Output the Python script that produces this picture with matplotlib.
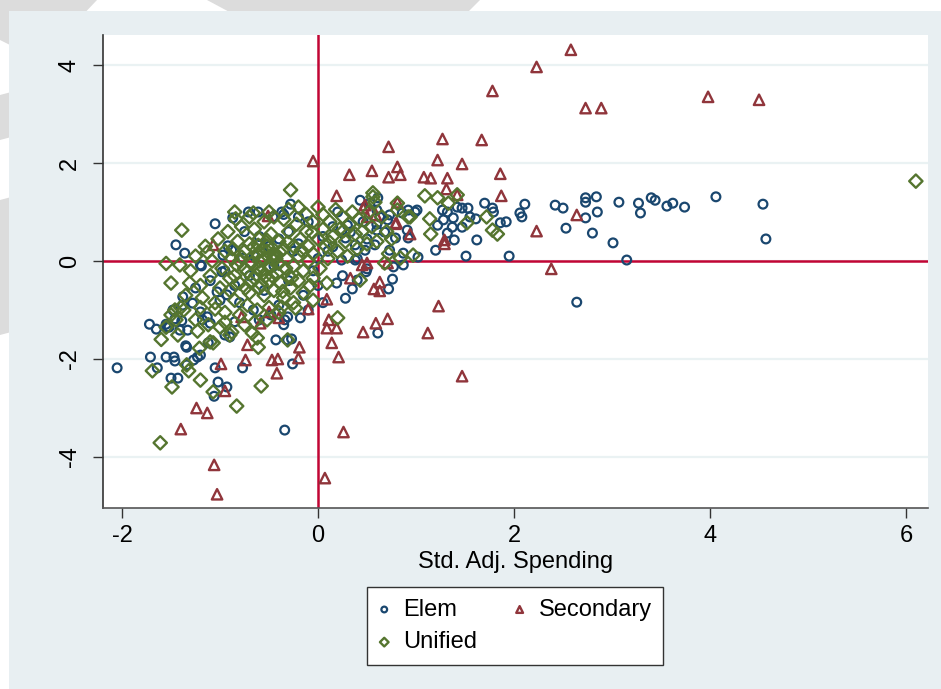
import matplotlib
matplotlib.use('Agg')
import matplotlib.pyplot as plt
from matplotlib.patches import Rectangle, Polygon

plt.rcParams['font.family'] = ['Liberation Sans', 'DejaVu Sans']

# Elementary districts (navy hollow circles)
elem_x = [2.11, 2.06, 2.08, 1.92, 1.86, 2.42, 2.50, 2.53, 2.73, 2.73, 2.84, 2.85, 2.73, 2.80,
          3.01, 3.07, 3.27, 3.29, 3.40, 3.44, 3.56, 3.62, 3.74, 4.06, 4.54, 4.57, 3.15, 1.95,
          2.64, 1.70, 1.78, 1.79, 1.62, 1.51, 1.39, 1.20, 1.47, 1.53, 1.55, 1.61, 1.47, 1.38,
          1.37, 1.32, 1.27, 1.28, 1.22, 1.32, 1.42, 1.01, 0.99, 0.92, 0.86, 0.73, 0.71, 0.63,
          0.60, 0.43, 0.53, 0.61, 0.46, 0.60, 0.68, 0.79, 0.91, 0.92, 1.02, 0.87, 0.73, 0.58,
          0.48, 0.38, 0.38, 0.24, 0.15, 0.28, 0.33, 0.30,
          -1.05, -1.45, -1.36, -1.19, -0.87, -0.71, -0.61, -0.37, -0.28, -0.46, -0.92, -0.88,
          -0.97, -0.77, -1.20, -0.98, -1.03, -1.38,
          -2.05, -1.72, -1.65, -1.55, -1.52, -1.46, -1.39, -1.41, -1.33, -1.35, -1.71, -1.64,
          -1.55, -1.47, -1.46, -1.50, -1.43, -1.34, -1.23, -1.27, -1.20, -1.12, -1.05, -1.02,
          -0.93, -1.06, -0.77, -0.85, -0.95, -0.90, -0.43, -0.31, -0.27, -0.26, -0.18, -0.34,
          -0.31, -0.48, -0.66, -1.38, -1.28, -1.20, -1.18, -1.13, -1.10, -1.48, -1.00, -0.93,
          -1.54, -1.34, -0.34, 0.61, 0.28, 0.19, 0.35, 0.49, 0.76, 0.72, 0.77, 0.87, 0.50, 0.40,
          -0.60, -0.50, -0.30, -0.20, -0.10, 0.05, 0.10, -0.05, -0.30, -0.55, -0.70, -0.85,
          -0.40, -0.15, 0.00, -0.65, -0.45, -0.25, 0.15, 0.20, -0.75, -0.95, -1.10, -1.25,
          -0.80, -0.60, -0.35, -0.10, 0.05, 0.25, 0.40, 0.50, 0.60, -0.35, -0.20, 0.00, -0.40]
elem_y = [1.16, 0.98, 0.90, 0.80, 0.78, 1.14, 1.08, 0.67, 1.29, 1.20, 1.31, 1.00, 0.88, 0.57,
          0.37, 1.20, 1.18, 0.98, 1.29, 1.24, 1.12, 1.18, 1.10, 1.31, 1.16, 0.45, 0.02, 0.10,
          -0.84, 1.18, 1.08, 1.00, 0.43, 0.10, 0.43, 0.22, 1.08, 1.08, 0.90, 0.86, 0.69, 0.88,
          0.69, 1.00, 1.04, 0.84, 0.73, 0.57, 1.10, 1.04, 1.00, 1.04, 0.98, 0.94, 0.84, 0.90,
          1.04, 1.24, 1.18, 1.29, 0.80, 0.63, 0.59, 0.47, 0.63, 0.47, 0.08, 0.16, 0.22, 0.33,
          0.22, 0.33, 0.02, 0.02, 0.29, 0.47, 0.59, 0.73,
          0.76, 0.33, 0.16, -0.10, 0.88, 1.00, 1.00, 1.00, 1.16, 0.90, 0.31, 0.22,
          0.12, 0.06, -0.08, -0.22, -0.63, -0.73,
          -2.18, -1.29, -1.39, -1.29, -1.35, -1.18, -1.22, -1.41, -1.41, -1.73, -1.96, -2.18,
          -1.96, -1.96, -2.04, -2.39, -2.39, -2.12, -1.96, -2.02, -1.92, -1.67, -2.18, -2.47,
          -2.57, -2.76, -2.18, -1.24, -1.51, -1.55, -1.61, -1.61, -1.59, -2.10, -1.16, -1.20,
          -1.14, -1.10, -1.00, -0.90, -0.86, -1.04, -1.20, -1.14, -1.27, -1.00, -0.80, -0.69,
          -1.35, -1.76, -3.45, -1.47, -0.76, -0.45, -0.57, -0.22, -0.37, -0.57, -0.12, -0.08,
          -0.16, -0.39,
          0.50, 0.30, 0.60, 0.90, 0.80, 0.50, 0.20, -0.20, -0.40, -0.60, -0.30, -0.50,
          -0.90, -0.70, -0.50, 0.10, -0.10, 0.20, 0.70, 1.00, 0.60, -0.20, -0.40, -0.55,
          -0.85, -1.20, -1.30, -1.00, -0.85, -0.30, 0.05, 0.45, 0.75, 0.95, 0.35, 0.05, 0.45]

# Secondary districts (maroon hollow triangles)
sec_x = [2.58, 2.23, 1.78, 2.73, 2.89, 3.98, 4.50, -0.05, 0.32, 0.55, 0.72, 1.27, 1.67, 0.81,
         0.72, 0.84, 1.08, 1.15, 1.22, 1.32, 1.47, 1.86, 1.31, 1.87, 0.19, 0.48, 0.59, 0.94,
         1.29, 0.80, 2.23, 2.64, 2.38, 1.29, 0.79, 0.46, 0.81, 0.50, 1.42, 0.33, 0.63, 0.57,
         0.63, 0.09, -0.10, 1.23, 0.11, 0.09, 0.19, 0.46, 0.59, 0.71, 1.12, 0.14, 0.21, 1.47,
         0.26, 0.07, -1.06, -1.03, -1.40, -1.24, -1.13, -0.99, -0.95, -0.74, -0.72, -0.42,
         -0.47, -0.41, -0.19, -0.20, -0.40, -0.59, -0.50, -0.78, 0.71, 0.50, -1.07, -0.51, 0.45]
sec_y = [4.31, 3.96, 3.47, 3.12, 3.12, 3.35, 3.29, 2.04, 1.76, 1.84, 2.33, 2.49, 2.47, 1.92,
         1.71, 1.76, 1.71, 1.69, 2.06, 1.69, 1.98, 1.78, 1.47, 1.33, 1.33, 1.14, 0.94, 0.55,
         0.43, 0.78, 0.61, 0.94, -0.16, 0.35, 0.76, 1.08, 1.20, 0.90, 1.35, -0.35, -0.43, -0.57,
         -0.61, -0.78, -0.98, -0.92, -1.20, -1.37, -1.37, -1.45, -1.27, -1.18, -1.47, -1.67,
         -1.96, -2.35, -3.49, -4.43, -4.16, -4.76, -3.43, -3.00, -3.10, -2.10, -2.65, -2.02,
         -1.71, -2.29, -2.02, -2.00, -1.76, -1.98, -1.16, -1.27, -1.04, -1.14, -0.04, -0.04,
         0.33, 0.92, -0.08]

# Unified districts (olive hollow diamonds)
uni_x = [6.10, -1.61, -0.83, -0.58, -1.07, -1.20, -1.49, -1.69, -1.32, -1.34, -1.21, -1.10,
         -1.07, -1.23, -1.43, -1.46, -1.37, -1.31, -1.41, -1.05, -1.00, -0.90, -0.88, -0.67,
         -0.62, -0.61, -0.31, -0.52, 0.20, -0.05, 0.09, -0.23, -0.37, -0.28, -1.39, -1.13,
         -0.84, -0.66, 1.09, 1.22, 1.42, 1.33, 1.72, 1.78, 1.83, 1.52, 1.14, 1.15, 0.94, 0.81,
         0.81, 0.56, 0.56, 0.92, 0.97, 0.84, 0.68, 0.43,
         -0.90, -0.85, -0.80, -0.80, -0.75, -0.75, -0.70, -0.70, -0.68, -0.65, -0.62, -0.60,
         -0.60, -0.58, -0.55, -0.55, -0.52, -0.50, -0.50, -0.48, -0.45, -0.45, -0.42, -0.40,
         -0.40, -0.38, -0.35, -0.35, -0.32, -0.30, -0.30, -0.28, -0.25, -0.25, -0.22, -0.20,
         -0.20, -0.18, -0.15, -0.12, -0.10, -0.10, -0.08, -0.05, -0.05, 0.00, 0.02, 0.05, 0.05,
         0.08, 0.10, 0.12, 0.15, 0.18, 0.20, 0.22, 0.25, 0.28, 0.30, 0.32, 0.35, 0.38, 0.40,
         0.42, 0.45, 0.50, 0.52, 0.55, 0.58, 0.60, 0.65, 0.70, 0.72, 0.75,
         -1.30, -1.25, -1.20, -1.18, -1.15, -1.10, -1.08, -1.05, -1.02, -1.00, -0.98, -0.95,
         -0.95, -0.92, -0.90, -0.88, -0.85, -0.82, -0.80, -0.78, -0.72, -0.65, -0.62, -0.55,
         -0.50, -0.45, -0.40, -0.35, -0.30, -0.25, -0.20, -0.15, -0.12, -0.05, 0.00, -1.35,
         -1.40, -1.45, -1.50, -1.25, -1.20, -1.12, -0.95, -0.75, -0.65, -1.55, -1.60, -1.50,
         -1.55, -0.70, -0.85, -0.50, -0.62, -0.47, -0.33, -0.52, -0.60, -0.43,
         -0.72, -0.58, -0.44, -0.66, -0.36, -0.52, -0.78, -0.27, -0.63, -0.48, -0.57, -0.83,
         -0.39, -0.69, -0.54, -0.31, -0.74, -0.46, -0.61, -0.87, -0.17, -0.06, 0.12, 0.26]
uni_y = [1.63, -3.71, -2.96, -2.55, -2.67, -2.43, -2.57, -2.24, -2.24, -2.12, -1.78, -1.65,
         -1.67, -1.43, -1.51, -1.00, -1.00, -0.45, -0.08, -0.98, -1.35, -1.51, -1.45, -1.47,
         -1.57, -1.76, -1.61, -1.20, -1.16, -0.80, -0.45, -0.96, -0.94, 1.45, 0.63, 0.18,
         0.86, 0.98, 1.33, 1.29, 1.35, 1.18, 0.90, 0.63, 0.55, 0.78, 0.86, 0.55, 0.90, 1.18,
         1.04, 1.39, 1.31, 0.90, 0.12, 0.06, -0.04, -0.39,
         -0.60, -0.30, 0.00, -0.45, 0.20, -0.15, -0.65, 0.35, -0.05, -0.35, 0.15, -0.55,
         0.45, -0.20, 0.05, -0.70, 0.30, -0.40, -0.10, 0.55, -0.60, 0.15, -0.25, 0.40,
         -0.05, -0.45, 0.25, -0.75, 0.05, -0.30, 0.60, -0.55, 0.30, -0.10, 0.75, -0.40,
         0.10, 0.45, -0.20, 0.60, 0.00, 0.30, -0.50, 0.80, 0.15, 0.45, -0.15, 0.65, 0.95,
         0.30, 0.05, 0.80, 0.50, 1.05, 0.20, 0.65, 0.90, 0.40, 0.10, 0.75, 1.00, 0.55, 0.25,
         0.85, 0.60, 0.35, 1.00, 0.70, 1.20, 0.40, 0.90, 0.60, 0.15, 0.45,
         -0.20, 0.10, -0.50, -0.75, 0.30, -0.30, 0.00, -0.85, 0.45, -0.55, -0.15, 0.20,
         -1.05, 0.60, -0.35, 0.05, -0.80, 0.40, -1.10, 0.70, -0.90, 0.65, -1.00, 0.80,
         -0.95, 0.90, -1.05, 0.85, 1.05, -0.85, 1.10, -0.65, 0.95, -0.35, 1.10, -0.70,
         -0.95, -1.20, -1.10, -1.20, -0.95, -1.30, -1.25, -1.30, -1.25, -1.35, -1.60, -0.45,
         -0.05, 0.90, 1.00, 1.00, -0.15, -0.30, -0.15, 0.20, 0.00, 0.05,
         -0.22, -0.48, 0.12, 0.28, -0.62, 0.42, 0.08, -0.35, -0.28, -0.12, 0.22, -0.08,
         0.18, -0.42, -0.32, 0.38, -0.55, 0.02, 0.32, 0.25, 0.22, 0.58, 0.38, 0.62]

x_ticks = [-2, 0, 2, 4, 6]
y_ticks = [-4, -2, 0, 2, 4]

W, H = 941, 689
fig = plt.figure(figsize=(W / 100, H / 100), dpi=100)
fig.patch.set_facecolor('white')

# faint watermark pieces peeking out round the page edge
for pts in [[(0, 1), (97 / W, 1), (40 / W, 1 - 60 / H), (0, 1 - 40 / H)],
            [(207 / W, 1), (480 / W, 1), (450 / W, 1 - 30 / H), (263 / W, 1 - 30 / H)],
            [(0, 1 - 95 / H), (0.02, 1 - 90 / H), (0.02, 1 - 135 / H), (0, 1 - 140 / H)],
            [(0, 1 - 200 / H), (0.02, 1 - 195 / H), (0.02, 1 - 330 / H), (0, 1 - 335 / H)]]:
    fig.patches.append(Polygon(pts, closed=True, transform=fig.transFigure,
                               facecolor='#dcdcdc', edgecolor='none', zorder=-3))
fig.patches.append(Rectangle((9 / W, 0), 1 - 9 / W, 1 - 11 / H, transform=fig.transFigure,
                             facecolor='#e8eff2', edgecolor='none', zorder=-2))

ax = fig.add_axes([103 / W, 1 - 508 / H, (928 - 103) / W, (508 - 35) / H])
ax.set_zorder(5)
ax.set_facecolor('white')
ax.set_xlim(-2.194, 6.224)
ax.set_ylim(-5.04, 4.612)

for yv in y_ticks:
    ax.axhline(yv, color='#eaf2f3', linewidth=1.6, zorder=0)
ax.axhline(0, color='#c10534', linewidth=1.8, zorder=1)
ax.axvline(0, color='#c10534', linewidth=1.8, zorder=1)

ax.scatter(elem_x, elem_y, s=40, facecolors='none', edgecolors='#1a476f',
           linewidths=1.6, marker='o', label='Elem', zorder=2)
ax.scatter(sec_x, sec_y, s=56, facecolors='none', edgecolors='#90353b',
           linewidths=1.7, marker='^', label='Secondary', zorder=3)
ax.scatter(uni_x, uni_y, s=46, facecolors='none', edgecolors='#55752f',
           linewidths=1.7, marker='D', label='Unified', zorder=4)

for side in ['top', 'right']:
    ax.spines[side].set_visible(False)
ax.spines['left'].set_color('#333333')
ax.spines['bottom'].set_color('#555555')
ax.spines['left'].set_linewidth(1.2)
ax.spines['bottom'].set_linewidth(1.2)

ax.set_xticks(x_ticks)
ax.set_yticks(y_ticks)
ax.set_xticklabels([str(v) for v in x_ticks])
ax.set_yticklabels([str(v) for v in y_ticks], rotation=90, va='center')
ax.tick_params(axis='both', labelsize=17, length=7, width=1, color='#333333', pad=5)
ax.tick_params(axis='y', pad=9)
ax.set_xlabel('Std. Adj. Spending', fontsize=17, labelpad=3)

h, l = ax.get_legend_handles_labels()
order = [0, 2, 1]
leg = ax.legend([h[i] for i in order], [l[i] for i in order], ncol=2,
                loc='center', bbox_to_anchor=(515 / W, 1 - 626 / H),
                bbox_transform=fig.transFigure, fontsize=17, frameon=True,
                fancybox=False, edgecolor='#333333', framealpha=1,
                handlelength=0.5, handletextpad=0.55, columnspacing=1.55,
                borderpad=0.5, labelspacing=0.45, markerscale=0.65)
leg.get_frame().set_linewidth(1.0)

fig.savefig('out.png', dpi=100)
